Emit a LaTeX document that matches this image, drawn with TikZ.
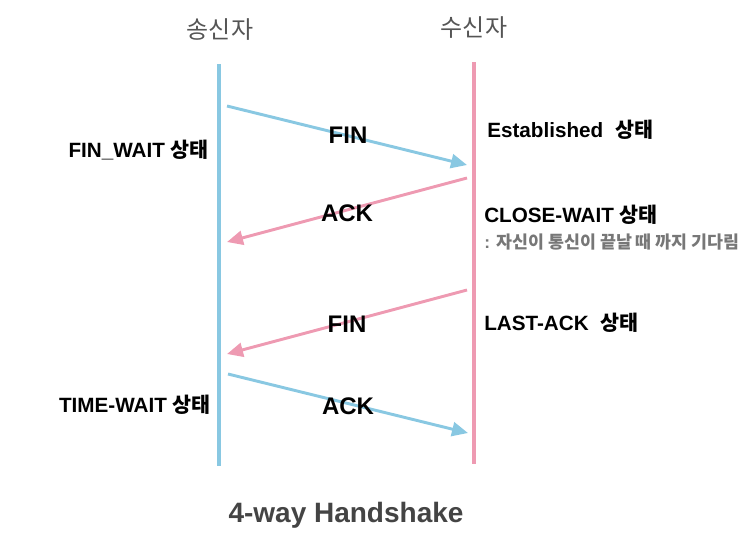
\documentclass[tikz,border=0pt]{standalone}
\usepackage{fontspec}
\setmainfont{Liberation Sans}
\newfontfamily\kr{Noto Sans CJK KR}
\usetikzlibrary{arrows.meta}
\definecolor{sendblue}{HTML}{89C8E2}
\definecolor{recvpink}{HTML}{EE9AB2}
\definecolor{headgray}{HTML}{555555}
\definecolor{titlegray}{HTML}{444444}
\definecolor{notegray}{HTML}{777777}
\tikzset{
  lifeline/.style={line width=2.4pt},
  msg/.style={line width=2.2pt,-{Triangle[length=12pt,width=10.5pt]}},
  msglabel/.style={font=\fontsize{18}{20}\selectfont\bfseries,inner sep=0pt,anchor=base},
  state/.style={font=\fontsize{15.5}{18}\selectfont\bfseries,inner sep=0pt},
  head/.style={font=\fontsize{18}{20}\selectfont\kr,text=headgray,inner sep=0pt},
}
\begin{document}
\begin{tikzpicture}[x=0.75pt,y=-0.75pt]
\useasboundingbox (0,0) rectangle (756,544);
% lifelines
\coordinate (stop) at (219,64);
\coordinate (sbot) at (219,466);
\coordinate (rtop) at (474,62);
\coordinate (rbot) at (474,464);
\draw[lifeline,sendblue] (stop) -- (sbot);
\draw[lifeline,recvpink] (rtop) -- (rbot);
% headers
\node[head] (sender) at (220,30) {송신자};
\node[head] (receiver) at (474,28) {수신자};
% message endpoints
\coordinate (m1a) at (227,106);
\coordinate (m1b) at (467,165);
\coordinate (m2a) at (467,178);
\coordinate (m2b) at (227,242);
\coordinate (m3a) at (467,290);
\coordinate (m3b) at (227,354);
\coordinate (m4a) at (228,374);
\coordinate (m4b) at (468,433);
\draw[msg,sendblue] (m1a) -- (m1b);
\draw[msg,recvpink] (m2a) -- (m2b);
\draw[msg,recvpink] (m3a) -- (m3b);
\draw[msg,sendblue] (m4a) -- (m4b);
% message labels
\node[msglabel] (l1) at (348,143) {FIN};
\node[msglabel] (l2) at (347,221) {ACK};
\node[msglabel] (l3) at (347,332) {FIN};
\node[msglabel] (l4) at (348,414) {ACK};
% sender states
\node[state,anchor=base east] (finwait) at (209,157) {FIN\_WAIT {\kr 상태}};
\node[state,anchor=base east] (timewait) at (211,412) {TIME-WAIT {\kr 상태}};
% receiver states
\node[state,anchor=base west] (estab) at (487,137) {Established\hspace{9pt}{\kr 상태}};
\node[state,anchor=base west] (closewait) at (484,222) {CLOSE-WAIT {\kr 상태}};
\node[anchor=base west,inner sep=0pt,font=\fontsize{13}{15}\selectfont\bfseries,text=notegray] (note) at (484,248) {: {\kr 자신이 통신이 끝날 때 까지 기다림}};
\node[state,anchor=base west] (lastack) at (484,330) {LAST-ACK\hspace{9pt}{\kr 상태}};
% title
\node[font=\fontsize{21}{24}\selectfont\bfseries,text=titlegray,inner sep=0pt,anchor=base] (title) at (346,522) {4-way Handshake};
\end{tikzpicture}
\end{document}
